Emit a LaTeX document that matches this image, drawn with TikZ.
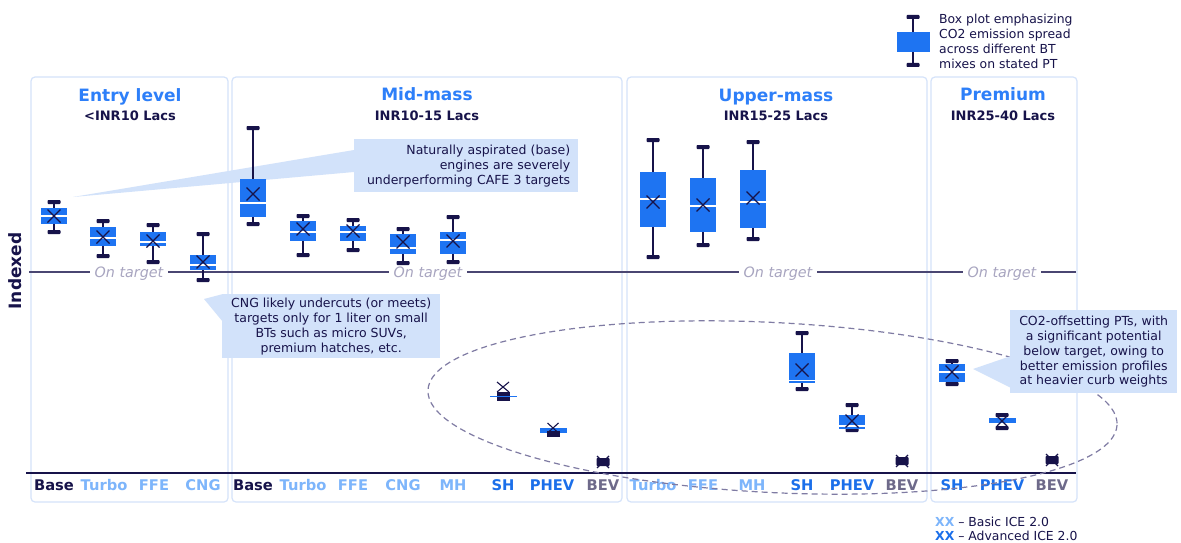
\documentclass[tikz,border=0pt]{standalone}
\usepackage{fontspec}
\setmainfont{DejaVu Sans}[BoldFont={DejaVu Sans Bold},ItalicFont={DejaVu Sans Oblique},BoldItalicFont={DejaVu Sans Bold Oblique}]
\definecolor{navy}{HTML}{17134A}
\definecolor{boxblue}{HTML}{1E74F2}
\definecolor{titleblue}{HTML}{2D7FF9}
\definecolor{panelc}{HTML}{D5E3FA}
\definecolor{callc}{HTML}{D2E2FA}
\definecolor{lightcat}{HTML}{7DB5FB}
\definecolor{midblue}{HTML}{1B6FEA}
\definecolor{bevgray}{HTML}{6E6A8A}
\definecolor{ontext}{HTML}{A8A5C0}
\definecolor{online}{HTML}{4A4672}
\definecolor{ellc}{HTML}{7F7BA3}
\newcommand{\bplot}[7]{%
  \draw[whisk] (#1,#2) -- (#1,#6);
  \fill[navy,rounded corners=0.8pt] (#1-6.5,#2-2) rectangle (#1+6.5,#2+2);
  \fill[navy,rounded corners=0.8pt] (#1-6.5,#6-2) rectangle (#1+6.5,#6+2);
  \fill[boxblue] (#1-13,#3) rectangle (#1+13,#5);
  \draw[white,line width=1.4pt] (#1-13,#4) -- (#1+13,#4);
  \draw[xmark] (#1-6.5,#7-6.5) -- (#1+6.5,#7+6.5) (#1-6.5,#7+6.5) -- (#1+6.5,#7-6.5);
}
\newcommand{\bevplot}[2]{%
  \fill[navy,rounded corners=0.8pt] (#1-6.5,#2-4) rectangle (#1+6.5,#2+4);
  \draw[xmark] (#1-6,#2-6) -- (#1+6,#2+6) (#1-6,#2+6) -- (#1+6,#2-6);
}
\begin{document}
\begin{tikzpicture}[x=1pt,y=-1pt,
  panel/.style={draw=panelc,line width=1.2pt,rounded corners=4pt},
  title/.style={font=\bfseries\fontsize{17}{20}\selectfont,text=titleblue,anchor=base,inner sep=0pt},
  sub/.style={font=\bfseries\fontsize{13}{15}\selectfont,text=navy,anchor=base,inner sep=0pt},
  cat/.style={font=\bfseries\fontsize{14.7}{16}\selectfont,anchor=base,inner sep=0pt},
  ontgt/.style={font=\itshape\fontsize{14.3}{16}\selectfont,text=ontext,fill=white,anchor=base,inner xsep=5pt,inner ysep=1pt},
  callbox/.style={fill=callc,inner sep=0pt,font=\fontsize{12.5}{14.9}\selectfont,text=navy,anchor=north west},
  whisk/.style={draw=navy,line width=1.3pt},
  xmark/.style={draw=navy,line width=1.1pt},
  legtext/.style={font=\fontsize{12.4}{15}\selectfont,text=navy,inner sep=0pt}]
\useasboundingbox (0,0) rectangle (1181,543);
\fill[white] (0,0) rectangle (1181,543);

% panels
\draw[panel] (31,77) rectangle (228,502);
\draw[panel] (232,77) rectangle (622,502);
\draw[panel] (627,77) rectangle (927,502);
\draw[panel] (931,77) rectangle (1077,502);

% titles
\node[title] (t1) at (130,101) {Entry level};
\node[sub] (s1) at (130,121) {<INR10 Lacs};
\node[title] (t2) at (427,100) {Mid-mass};
\node[sub] (s2) at (427,121) {INR10-15 Lacs};
\node[title] (t3) at (776,101) {Upper-mass};
\node[sub] (s3) at (776,121) {INR15-25 Lacs};
\node[title] (t4) at (1003,100) {Premium};
\node[sub] (s4) at (1003,121) {INR25-40 Lacs};

% axis label
\node[font=\bfseries\fontsize{17}{20}\selectfont,text=navy,rotate=90,inner sep=0pt] (ylab) at (15,271) {Indexed};

% on target line
\draw[online,line width=1.1pt] (29,272) -- (1076,272);
\node[ontgt] (o1) at (129,277) {On target};
\node[ontgt] (o2) at (428,277) {On target};
\node[ontgt] (o3) at (778,277) {On target};
\node[ontgt] (o4) at (1002,277) {On target};

% bottom axis
\draw[navy,line width=1.3pt] (26,473) -- (1076,473);

% category labels
\node[cat,text=navy] (a1) at (54,490) {Base};
\node[cat,text=lightcat] (a2) at (104,490) {Turbo};
\node[cat,text=lightcat] (a3) at (154,490) {FFE};
\node[cat,text=lightcat] (a4) at (203,490) {CNG};
\node[cat,text=navy] (b1) at (253,490) {Base};
\node[cat,text=lightcat] (b2) at (303,490) {Turbo};
\node[cat,text=lightcat] (b3) at (353,490) {FFE};
\node[cat,text=lightcat] (b4) at (403,490) {CNG};
\node[cat,text=lightcat] (b5) at (453,490) {MH};
\node[cat,text=midblue] (b6) at (503,490) {SH};
\node[cat,text=midblue] (b7) at (552,490) {PHEV};
\node[cat,text=bevgray] (b8) at (603,490) {BEV};
\node[cat,text=lightcat] (c1) at (653,490) {Turbo};
\node[cat,text=lightcat] (c2) at (703,490) {FFE};
\node[cat,text=lightcat] (c3) at (752,490) {MH};
\node[cat,text=midblue] (c4) at (802,490) {SH};
\node[cat,text=midblue] (c5) at (852,490) {PHEV};
\node[cat,text=bevgray] (c6) at (902,490) {BEV};
\node[cat,text=midblue] (d1) at (952,490) {SH};
\node[cat,text=midblue] (d2) at (1002,490) {PHEV};
\node[cat,text=bevgray] (d3) at (1052,490) {BEV};

% dashed ellipse
\draw[ellc,line width=1.2pt,dash pattern=on 6pt off 4pt,rotate around={-2.9:(772.5,407.5)}] (772.5,407.5) ellipse [x radius=345, y radius=85];

% callouts
\fill[callc] (73,197) -- (354,150) -- (354,172) -- cycle;
\node[callbox,minimum width=224pt,minimum height=53pt,text width=208pt,align=right] (n1) at (354,139)
  {Naturally aspirated (base)\\engines are severely\\underperforming CAFE 3 targets};
\fill[callc] (204,299) -- (223,294) -- (223,322) -- cycle;
\node[callbox,minimum width=218pt,minimum height=64pt,align=center] (n2) at (222,294)
  {CNG likely undercuts (or meets)\\targets only for 1 liter on small\\BTs such as micro SUVs,\\premium hatches, etc.};
\fill[callc] (973,369) -- (1011,356) -- (1011,388) -- cycle;
\node[callbox,minimum width=167pt,minimum height=83pt,align=center] (n3) at (1010,310)
  {CO2-offsetting PTs, with\\a significant potential\\below target, owing to\\better emission profiles\\at heavier curb weights};

% box plots: entry
\bplot{54}{202}{208}{216}{224}{232}{216}
\bplot{103}{221}{227}{238}{246}{256}{237}
\bplot{153}{225}{232}{242}{246}{262}{241}
\bplot{203}{234}{255}{265}{270}{280}{262}
% mid
\bplot{253}{128}{179}{203}{217}{224}{194}
\bplot{303}{216}{221}{232}{241}{255}{229}
\bplot{353}{220}{226}{232}{241}{250}{231}
\bplot{403}{229}{234}{248}{254}{263}{242}
\bplot{453}{217}{232}{240}{254}{262}{241}
% mid SH
\fill[navy] (496.5,392) rectangle (509.5,401);
\draw[boxblue,line width=1.2pt] (490,396.5) -- (517,396.5);
\draw[xmark] (497,382) -- (509,392) (497,392) -- (509,382);
% mid PHEV
\fill[boxblue] (540,428) rectangle (567,432.5);
\fill[navy] (546.5,431) rectangle (559.5,437);
\draw[xmark] (547.5,423) -- (558.5,433) (547.5,433) -- (558.5,423);
% mid BEV
\bevplot{603}{462}
% upper
\bplot{653}{140}{172}{199}{227}{257}{202}
\bplot{703}{147}{178}{206}{232}{245}{205}
\bplot{753}{142}{170}{202}{228}{239}{198}
\bplot{802}{333}{353}{380.5}{383}{389}{370}
\bplot{852}{405}{415}{426}{429}{430}{421}
\bevplot{902}{461}
% premium
\bplot{952}{361}{364}{372}{382}{384}{372}
\fill[navy,rounded corners=0.8pt] (995.5,413) rectangle (1008.5,417);
\fill[boxblue] (988.5,418) rectangle (1015.5,423);
\fill[navy,rounded corners=0.8pt] (995.5,426) rectangle (1008.5,430);
\draw[xmark] (997,416) -- (1007,426) (997,426) -- (1007,416);
\bevplot{1052}{460}

% legend top
\draw[whisk] (913,17) -- (913,65);
\fill[navy,rounded corners=0.8pt] (906.5,15) rectangle (919.5,19);
\fill[navy,rounded corners=0.8pt] (906.5,63) rectangle (919.5,67);
\fill[boxblue] (897,32) rectangle (930,52);
\node[legtext,anchor=north west,align=left] (lg) at (939,13.5)
  {Box plot emphasizing\\CO2 emission spread\\across different BT\\mixes on stated PT};

% legend bottom
\node[legtext,anchor=base west] (k1) at (935,526) {\textcolor{lightcat}{\bfseries XX} – Basic ICE 2.0};
\node[legtext,anchor=base west] (k2) at (935,540) {\textcolor{midblue}{\bfseries XX} – Advanced ICE 2.0};
\end{tikzpicture}
\end{document}
